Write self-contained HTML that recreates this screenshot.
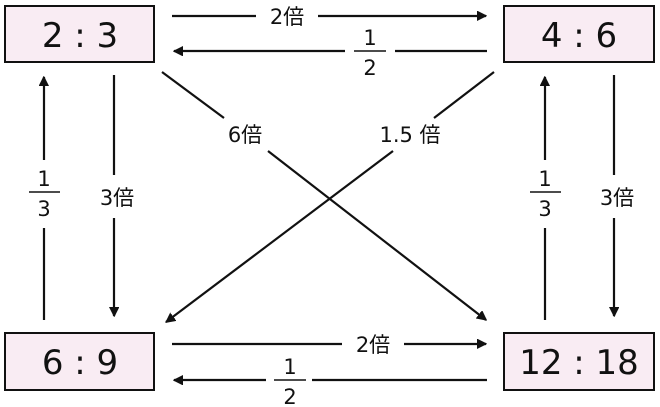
<!DOCTYPE html>
<html><head><meta charset="utf-8"><style>
html,body{margin:0;padding:0;background:#fff;}
svg{display:block;}
text{font-family:"DejaVu Sans","Noto Sans CJK JP",sans-serif;fill:#111;}
</style></head><body>
<svg width="660" height="407" viewBox="0 0 660 407" xmlns="http://www.w3.org/2000/svg">
<defs>
<marker id="a" markerWidth="10" markerHeight="10" refX="9" refY="5" orient="auto" markerUnits="userSpaceOnUse">
<path d="M0,0 L10,5 L0,10 z" fill="#111" transform="scale(1.6) translate(-3.5,-2)"/>
</marker>
</defs>
<g stroke="#111" stroke-width="2" fill="#f9ecf3">
<rect x="5" y="6" width="149" height="56"/>
<rect x="504" y="6" width="150" height="56"/>
<rect x="5" y="333" width="149" height="57"/>
<rect x="504" y="333" width="150" height="57"/>
</g>
<g font-size="34" text-anchor="middle">
<text x="80" y="47">2 : 3</text>
<text x="579" y="47">4 : 6</text>
<text x="80" y="374">6 : 9</text>
<text x="579" y="374">12 : 18</text>
</g>
<g stroke="#111" stroke-width="2.2" fill="none">
<line x1="172" y1="16" x2="256" y2="16"/>
<line x1="318" y1="16" x2="486" y2="16" marker-end="url(#a)"/>
<line x1="487" y1="51" x2="395" y2="51"/>
<line x1="345" y1="51" x2="174" y2="51" marker-end="url(#a)"/>
<line x1="354" y1="51" x2="386" y2="51" stroke-width="1.5"/>
<line x1="172" y1="344" x2="342" y2="344"/>
<line x1="404" y1="344" x2="486" y2="344" marker-end="url(#a)"/>
<line x1="487" y1="380" x2="312" y2="380"/>
<line x1="266" y1="380" x2="174" y2="380" marker-end="url(#a)"/>
<line x1="274" y1="380" x2="306" y2="380" stroke-width="1.5"/>
<line x1="44" y1="320" x2="44" y2="228"/>
<line x1="44" y1="160" x2="44" y2="77" marker-end="url(#a)"/>
<line x1="114" y1="75" x2="114" y2="175"/>
<line x1="114" y1="218" x2="114" y2="316" marker-end="url(#a)"/>
<line x1="29" y1="192" x2="60" y2="192" stroke-width="1.5"/>
<line x1="545" y1="320" x2="545" y2="228"/>
<line x1="545" y1="160" x2="545" y2="77" marker-end="url(#a)"/>
<line x1="614" y1="75" x2="614" y2="175"/>
<line x1="614" y1="218" x2="614" y2="316" marker-end="url(#a)"/>
<line x1="530" y1="192" x2="561" y2="192" stroke-width="1.5"/>
<line x1="162" y1="72" x2="224" y2="118"/>
<line x1="268" y1="151" x2="486" y2="320" marker-end="url(#a)"/>
<line x1="494" y1="72" x2="434" y2="118"/>
<line x1="393" y1="151" x2="166" y2="322" marker-end="url(#a)"/>
</g>
<g font-size="21" text-anchor="middle">
<text x="287" y="24">2倍</text>
<text x="373" y="352">2倍</text>
<text x="370" y="45">1</text>
<text x="370" y="75">2</text>
<text x="290" y="374">1</text>
<text x="290" y="404">2</text>
<text x="44" y="186">1</text>
<text x="44" y="216">3</text>
<text x="545" y="186">1</text>
<text x="545" y="216">3</text>
<text x="117" y="205">3倍</text>
<text x="617" y="205">3倍</text>
<text x="245" y="142">6倍</text>
<text x="410" y="142">1.5 倍</text>
</g>
</svg>
</body></html>
